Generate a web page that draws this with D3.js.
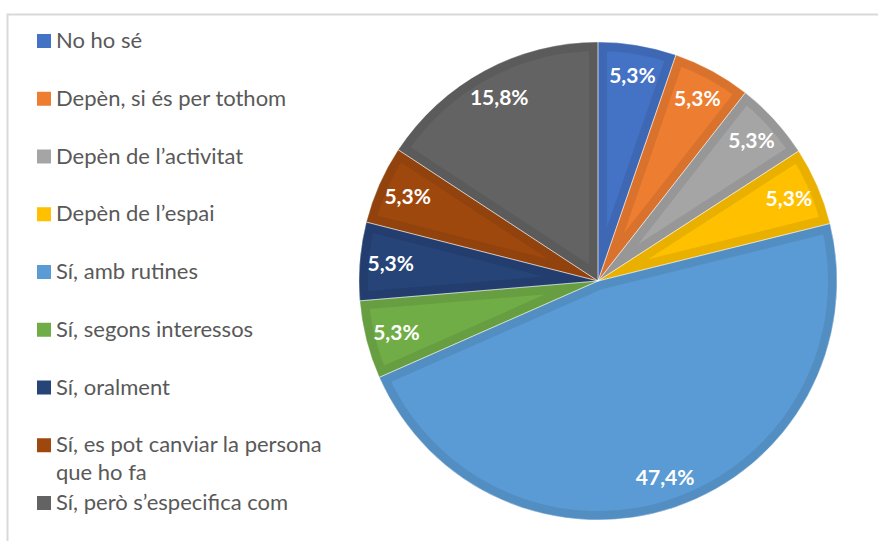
<!DOCTYPE html>
<html><head><meta charset="utf-8">
<script src="https://cdn.jsdelivr.net/npm/d3@7/dist/d3.min.js"></script>
<style>html,body{margin:0;padding:0;background:#fff;}svg{display:block;}</style>
</head><body>
<svg id="chart" width="878" height="541"></svg>
<script>
const categories = ["No ho sé","Depèn, si és per tothom","Depèn de l’activitat","Depèn de l’espai","Sí, amb rutines","Sí, segons interessos","Sí, oralment","Sí, es pot canviar la persona que ho fa","Sí, però s’especifica com"];
const legendLines = [["No ho sé"],["Depèn, si és per tothom"],["Depèn de l’activitat"],["Depèn de l’espai"],["Sí, amb rutines"],["Sí, segons interessos"],["Sí, oralment"],["Sí, es pot canviar la persona","que ho fa"],["Sí, però s’especifica com"]];
const values = [5.3,5.3,5.3,5.3,47.4,5.3,5.3,5.3,15.8];
const labels = ["5,3%","5,3%","5,3%","5,3%","47,4%","5,3%","5,3%","5,3%","15,8%"];
const colors = ["#4472C4","#ED7D31","#A5A5A5","#FFC000","#5B9BD5","#70AD47","#264478","#9E480E","#636363"];

const svg = d3.select("#chart");
svg.append("rect").attr("x",7.5).attr("y",14.5).attr("width",900).attr("height",600)
  .attr("fill","none").attr("stroke","#d9d9d9").attr("stroke-width",2);

const cx = 598, cy = 281, R = 239;
const pie = d3.pie().sort(null).value(d=>d);
const arcs = pie(values);
const arc = d3.arc().innerRadius(0).outerRadius(R);
const labelArc = d3.arc().innerRadius(208).outerRadius(208);

const defs = svg.append("defs");
const g = svg.append("g").attr("transform",`translate(${cx},${cy})`);
arcs.forEach((a,i)=>{
  defs.append("clipPath").attr("id","clip"+i).append("path").attr("d",arc(a));
  const base = d3.color(colors[i]);
  const dark = base.darker(0.25);
  g.append("path").attr("d",arc(a)).attr("fill",colors[i])
    .attr("stroke",dark.formatHex()).attr("stroke-width",18)
    .attr("clip-path",`url(#clip${i})`);
});
arcs.forEach((a,i)=>{
  g.append("path").attr("d",arc(a)).attr("fill","none")
    .attr("stroke","#ffffff").attr("stroke-opacity",0.5).attr("stroke-width",0.8);
});
arcs.forEach((a,i)=>{
  const [x,y] = labelArc.centroid(a);
  g.append("text").attr("x",x).attr("y",y).attr("dy","0.35em")
    .attr("text-anchor","middle").attr("fill","#fff")
    .attr("font-family","Lato, 'Open Sans', sans-serif").attr("font-weight","bold")
    .attr("font-size",21).text(labels[i]);
});

const leg = svg.append("g");
const step = 57.75, base0 = 48;
legendLines.forEach((lines,i)=>{
  const by = base0 + i*step;
  leg.append("rect").attr("x",37).attr("y",by-14).attr("width",14).attr("height",14).attr("fill",colors[i]);
  lines.forEach((t,j)=>{
    leg.append("text").attr("x",56).attr("y",by + j*28)
      .attr("fill","#595959").attr("font-family","Lato, 'Open Sans', sans-serif")
      .attr("font-size",22).text(t);
  });
});
</script>
</body></html>
